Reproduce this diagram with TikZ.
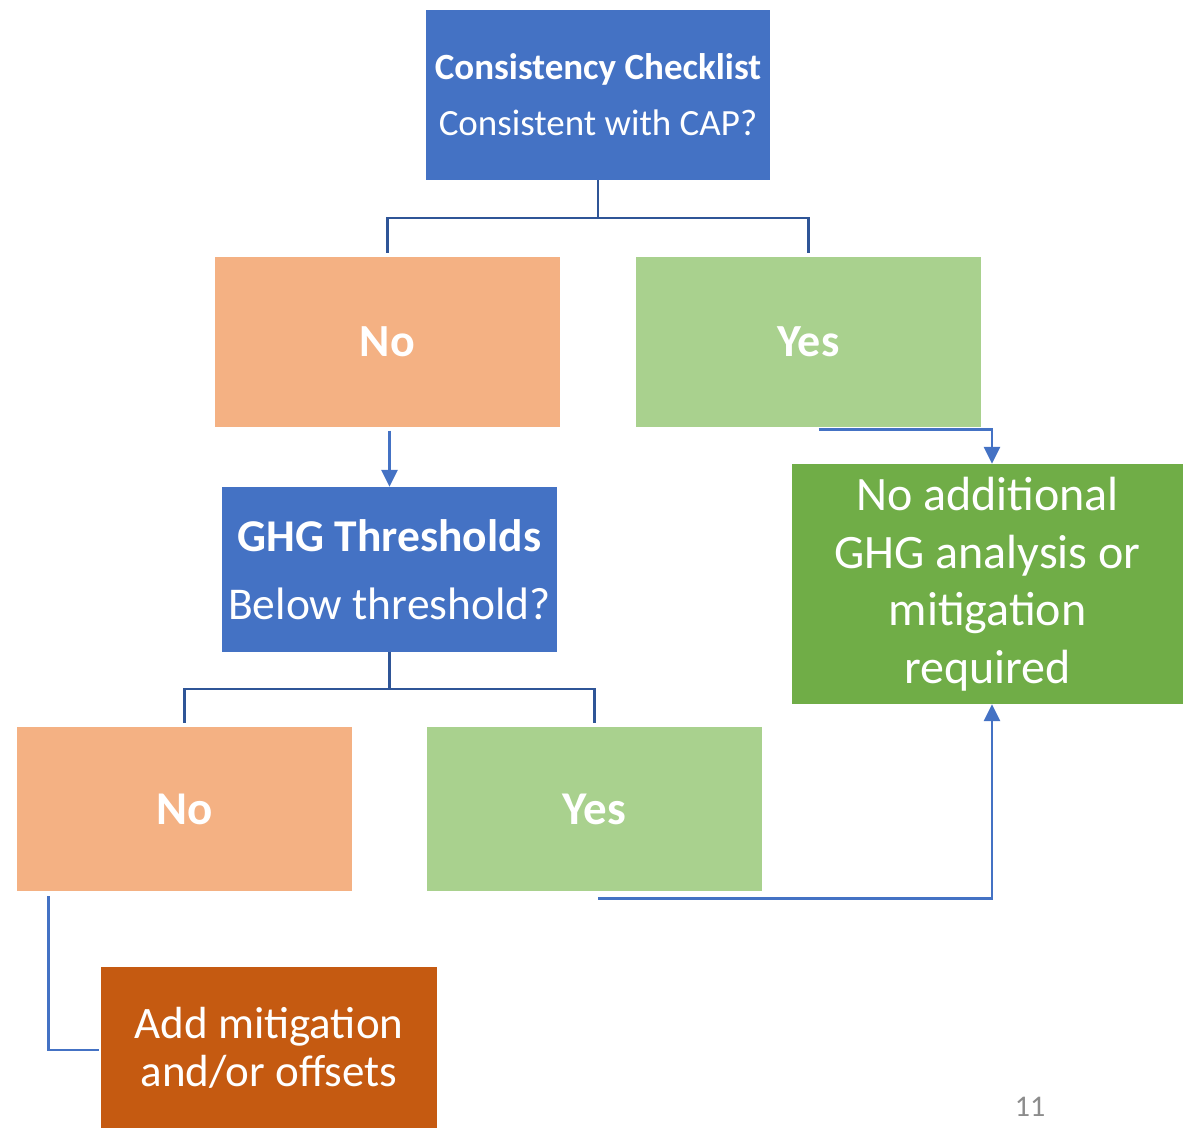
\documentclass[tikz,border=0pt]{standalone}
\usepackage{fontspec}
\setmainfont{Carlito}
\usetikzlibrary{arrows.meta}
\definecolor{cblue}{HTML}{4472C4}
\definecolor{corange}{HTML}{F4B183}
\definecolor{cgreen}{HTML}{A9D18E}
\definecolor{cdgreen}{HTML}{70AD47}
\definecolor{cburnt}{HTML}{C55A11}
\definecolor{cline}{HTML}{2F5597}
\definecolor{cgray}{HTML}{8C8C8C}
\begin{document}
\begin{tikzpicture}[x=1pt,y=-1pt,
  box/.style={rectangle, inner sep=0pt, text=white, align=center},
  elbow/.style={draw=cline, line width=2.8pt},
  arr/.style={draw=cblue, line width=2.8pt, -{Triangle[width=16pt,length=17pt]}},
]
\useasboundingbox (0,0) rectangle (1183,1128);
\node[box, fill=cblue, minimum width=344pt, minimum height=170pt,
  font={\fontsize{37pt}{56pt}\selectfont}] (top) at (598,95)
  {\textbf{Consistency Checklist}\\Consistent with CAP?};
\node[box, fill=corange, minimum width=345pt, minimum height=170pt,
  font={\fontsize{46pt}{50pt}\selectfont\bfseries}] (no1) at (387.5,342) {No};
\node[box, fill=cgreen, minimum width=345pt, minimum height=170pt,
  font={\fontsize{46pt}{50pt}\selectfont\bfseries}] (yes1) at (808.5,342) {Yes};
\node[box, fill=cblue, minimum width=335pt, minimum height=165pt,
  font={\fontsize{45.5pt}{68pt}\selectfont}] (ghg) at (389.5,569.5)
  {\textbf{GHG Thresholds}\\Below threshold?};
\node[box, fill=cdgreen, minimum width=391pt, minimum height=240pt,
  font={\fontsize{48pt}{57.5pt}\selectfont}] (res) at (987.5,584)
  {No additional\\GHG analysis or\\mitigation\\required};
\node[box, fill=corange, minimum width=335pt, minimum height=164pt,
  font={\fontsize{47pt}{50pt}\selectfont\bfseries}] (no2) at (184.5,809) {No};
\node[box, fill=cgreen, minimum width=335pt, minimum height=164pt,
  font={\fontsize{47pt}{50pt}\selectfont\bfseries}] (yes2) at (594.5,809) {Yes};
\node[box, fill=cburnt, minimum width=336pt, minimum height=161pt,
  font={\fontsize{45pt}{48pt}\selectfont}] (add) at (269,1047.5)
  {Add mitigation\\and/or offsets};
\node[text=cgray, inner sep=0pt, font={\fontsize{30pt}{34pt}\selectfont}] (pg) at (1030,1107) {11};
% connectors
\coordinate (j1) at (598,218);
\draw[elbow, shorten >=4pt] (top) -- (j1) -| (no1);
\draw[elbow, shorten >=4pt] (j1) -| (yes1);
\coordinate (j2) at (389.5,689);
\draw[elbow, shorten >=4pt] (ghg) -- (j2) -| (no2);
\draw[elbow, shorten >=4pt] (j2) -| (yes2);
\draw[arr] ([yshift=-3.5pt]no1.south -| ghg.north) -- (ghg.north);
\draw[arr] ([xshift=10pt,yshift=-2.5pt]yes1.south) -| ([xshift=4.5pt]res.north);
\draw[arr] ([xshift=3.5pt,yshift=-7pt]yes2.south) -| ([xshift=4.5pt]res.south);
\draw[draw=cblue, line width=2.8pt] ([xshift=32pt,yshift=-5pt]no2.south west) |- ([xshift=-2pt,yshift=-2.5pt]add.west);
\end{tikzpicture}
\end{document}
